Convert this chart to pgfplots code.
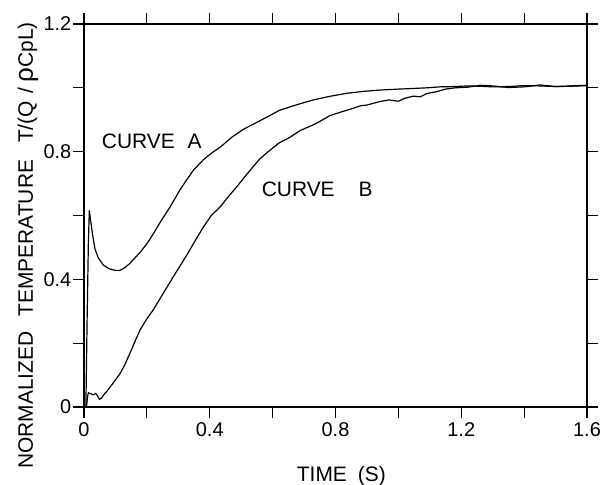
\documentclass[border=0pt]{standalone}
\usepackage{fontspec}
\setmainfont{Liberation Sans}
\usepackage{pgfplots}
\pgfplotsset{compat=1.18}
\begin{document}
\begin{tikzpicture}
\begin{axis}[
  scale only axis, width=503bp, height=383bp,
  xmin=0, xmax=1.6, ymin=0, ymax=1.2,
  axis line style={line width=1.2bp},
  tick align=outside, tick pos=both,
  xticklabel pos=lower, yticklabel pos=left,
  major tick length=11bp,
  tick style={line width=1.2bp, black},
  xtick={0,0.2,0.4,0.6,0.8,1,1.2,1.4,1.6},
  xticklabels={0,,0.4,,0.8,,1.2,,1.6},
  ytick={0,0.2,0.4,0.6,0.8,1,1.2},
  yticklabels={0,,0.4,,0.8,,1.2},
  ticklabel style={font=\fontsize{20}{23}\selectfont},
  /pgf/number format/assume math mode=true,
  xticklabel style={inner ysep=4bp},
  yticklabel style={inner xsep=1.5bp},
  clip=false,
]
\coordinate (sw) at (rel axis cs:0,0);
\coordinate (ne) at (rel axis cs:1,1);
% Curve A
\addplot[black, line width=1.2bp, line join=round, no markers] table {
0.000 0.000
0.006 0.000
0.010 0.28
0.014 0.52
0.017 0.615
0.021 0.585
0.028 0.535
0.035 0.495
0.045 0.468
0.061 0.445
0.080 0.433
0.100 0.428
0.115 0.428
0.130 0.437
0.146 0.450
0.160 0.465
0.178 0.484
0.199 0.510
0.220 0.542
0.245 0.583
0.274 0.627
0.305 0.680
0.327 0.712
0.348 0.742
0.379 0.774
0.405 0.795
0.433 0.814
0.470 0.845
0.507 0.870
0.560 0.897
0.623 0.930
0.680 0.948
0.729 0.962
0.780 0.973
0.836 0.983
0.890 0.989
0.941 0.993
1.000 0.996
1.047 0.998
1.090 1.000
1.132 1.003
1.180 1.004
1.220 1.006
1.260 1.005
1.300 1.003
1.350 1.004
1.400 1.007
1.450 1.006
1.500 1.004
1.550 1.006
1.600 1.008
};
% Curve B
\addplot[black, line width=1.2bp, line join=round, no markers] table {
0.000 0.000
0.008 0.000
0.011 0.030
0.014 0.045
0.020 0.042
0.030 0.038
0.037 0.043
0.043 0.035
0.049 0.024
0.056 0.028
0.064 0.040
0.072 0.048
0.085 0.065
0.100 0.085
0.115 0.105
0.130 0.133
0.146 0.168
0.162 0.205
0.178 0.241
0.199 0.275
0.220 0.304
0.252 0.356
0.284 0.408
0.327 0.476
0.350 0.515
0.379 0.563
0.405 0.600
0.433 0.627
0.460 0.660
0.486 0.690
0.512 0.722
0.538 0.753
0.560 0.778
0.586 0.800
0.620 0.827
0.655 0.845
0.687 0.866
0.720 0.880
0.740 0.889
0.782 0.913
0.820 0.925
0.857 0.936
0.880 0.944
0.900 0.946
0.941 0.957
0.970 0.962
1.000 0.958
1.020 0.967
1.047 0.974
1.070 0.972
1.090 0.982
1.122 0.988
1.150 0.996
1.180 1.000
1.220 1.002
1.260 1.008
1.300 1.006
1.350 1.001
1.400 1.003
1.450 1.009
1.500 1.004
1.550 1.005
1.600 1.007
};
\node[anchor=base west, inner sep=0, font=\fontsize{21}{25}\selectfont] at (axis cs:0.0563,0.810) {CURVE\hspace{13bp}A};
\node[anchor=base west, inner sep=0, font=\fontsize{21}{25}\selectfont] at (axis cs:0.565,0.659) {CURVE\hspace{24bp}B};
\node[anchor=base west, inner sep=0, font=\fontsize{21}{25}\selectfont] at (rel axis cs:0.4229,-0.195) {TIME\hspace{11bp}(S)};
\node[anchor=base, rotate=90, inner sep=0, font=\fontsize{21}{25}\selectfont] at (rel axis cs:-0.1014,0.422) {NORMALIZED\hspace{15bp}TEMPERATURE\hspace{17bp}T/(Q\hspace{8bp}/\hspace{5bp}{\fontsize{26}{28}\selectfont ρ}CpL)};
\end{axis}
\pgfresetboundingbox
\path[use as bounding box] ([shift={(-84bp,-78bp)}]sw) rectangle ([shift={(18bp,24bp)}]ne);
\end{tikzpicture}
\end{document}
